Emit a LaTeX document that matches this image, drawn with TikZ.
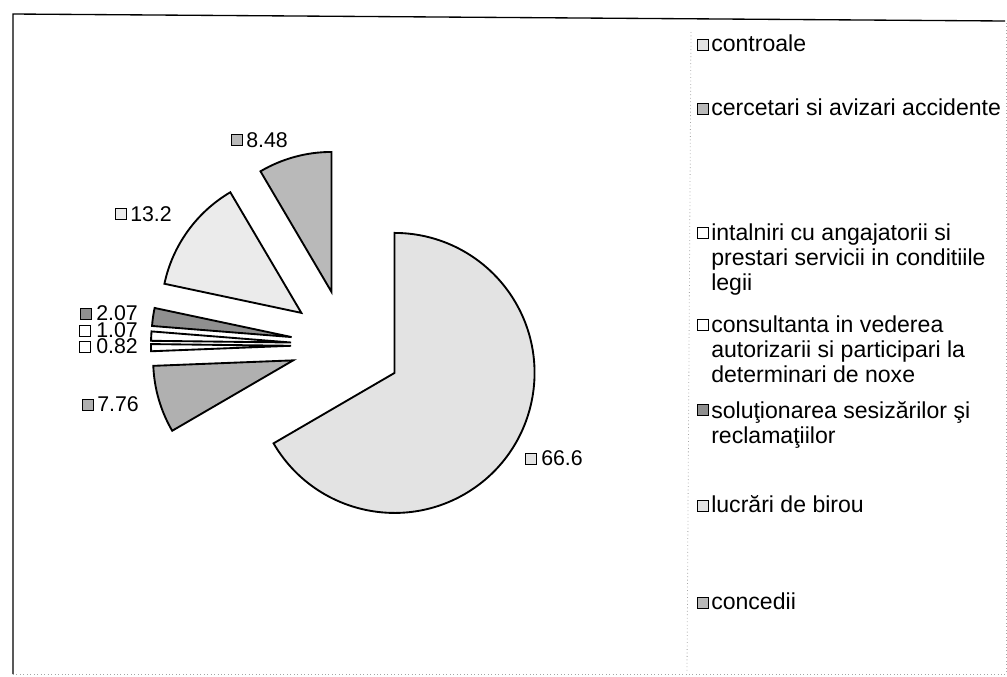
\documentclass[tikz,border=0pt]{standalone}
\usepackage{fontspec}
\setmainfont{Liberation Sans}
\begin{document}
\begin{tikzpicture}[x=0.75pt,y=-0.75pt,
  legtxt/.style={font=\fontsize{17.3}{18.75}\selectfont, anchor=base west, inner sep=0pt, align=left},
  pietxt/.style={font=\fontsize{16}{16}\selectfont, anchor=base west, inner sep=0pt},
  keybox/.style={draw=black, line width=0.8pt, minimum size=7.8pt, inner sep=0pt, anchor=center},
  slice/.style={draw=black, line width=1.4pt, line join=miter},
  flight/.style={fill=gray!22},
  flight2/.style={fill=gray!16},
  fmid/.style={fill=gray!55},
  fmid2/.style={fill=gray!62},
  fdark/.style={fill=gray!88},
  fwhite/.style={fill=white},
  frameline/.style={draw=black, line width=1pt},
  faintline/.style={draw=gray!70, line width=0.6pt, dotted}
]
\useasboundingbox (0,0) rectangle (1007,676);
% frame
\draw[frameline] (13,674) -- (13,14) -- (1005,21);
\draw[faintline] (13,674) -- (1006,674) -- (1006,21);
\draw[faintline] (691,32) -- (687,672);

% pie
\begin{scope}[shift={(346,345)}, yscale=-1]
  \draw[slice, flight] (-29.9:56) -- ++(-149.8:140) arc[start angle=-149.8, end angle=90, radius=140] -- cycle;
  \draw[slice, fmid] (105.25:55) -- ++(90:140) arc[start angle=90, end angle=120.5, radius=140] -- cycle;
  \draw[slice, flight2] (144.25:55) -- ++(120.5:140) arc[start angle=120.5, end angle=168, radius=140] -- cycle;
  \draw[slice, fdark] (171.7:55) -- ++(168:140) arc[start angle=168, end angle=175.45, radius=140] -- cycle;
  \draw[slice, fwhite] (177.4:55) -- ++(175.45:140) arc[start angle=175.45, end angle=179.3, radius=140] -- cycle;
  \draw[slice, fwhite] (180.8:55) -- ++(179.3:140) arc[start angle=179.3, end angle=182.25, radius=140] -- cycle;
  \draw[slice, fmid2] (196.2:55) -- ++(182.25:140) arc[start angle=182.25, end angle=210.2, radius=140] -- cycle;
\end{scope}

% pie labels
\node[keybox, fmid] (k848) at (237,140) {};
\node[pietxt] (l848) at (246,147) {8.48};
\node[keybox, flight2] (k132) at (121,214) {};
\node[pietxt] (l132) at (130,221) {13.2};
\node[keybox, fdark] (k207) at (86,314) {};
\node[pietxt] (l207) at (96,320) {2.07};
\node[keybox, fwhite] (k107) at (85,331) {};
\node[pietxt] (l107) at (96,337) {1.07};
\node[keybox, fwhite] (k082) at (85,347) {};
\node[pietxt] (l082) at (96,353) {0.82};
\node[keybox, fmid2] (k776) at (88,405) {};
\node[pietxt] (l776) at (97,411) {7.76};
\node[keybox, flight] (k666) at (531,459) {};
\node[pietxt] (l666) at (541,465) {66.6};

% legend
\node[keybox, flight] (g1) at (703,45) {};
\node[legtxt] (t1) at (711,51) {controale};
\node[keybox, fmid] (g2) at (703,109) {};
\node[legtxt] (t2) at (711,115) {cercetari si avizari accidente};
\node[keybox, fwhite] (g3) at (703,233) {};
\node[legtxt, anchor=north west] (t3) at (711,224) {intalniri cu angajatorii si\\prestari servicii in conditiile\\legii};
\node[keybox, fwhite] (g4) at (703,325) {};
\node[legtxt, anchor=north west] (t4) at (711,316) {consultanta in vederea\\autorizarii si participari la\\determinari de noxe};
\node[keybox, fdark] (g5) at (703,410) {};
\node[legtxt, anchor=north west] (t5) at (711,401) {soluţionarea sesizărilor şi\\reclamaţiilor};
\node[keybox, flight] (g6) at (703,506) {};
\node[legtxt] (t6) at (711,512) {lucrări de birou};
\node[keybox, fmid] (g7) at (703,603) {};
\node[legtxt] (t7) at (711,609) {concedii};
\end{tikzpicture}
\end{document}
